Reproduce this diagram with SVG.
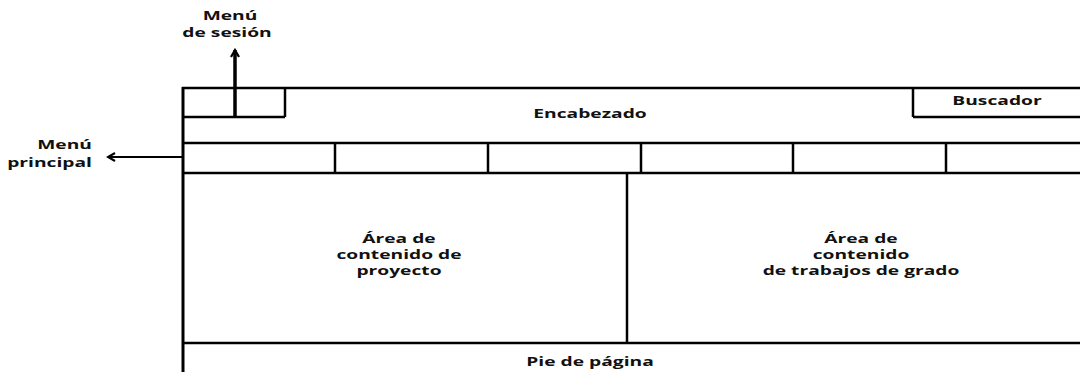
<svg xmlns="http://www.w3.org/2000/svg" width="1080" height="372" viewBox="0 0 1080 372">
<defs>
<style>
.ln{stroke:#000;stroke-width:2.5;fill:none}
.tk{stroke:#000;stroke-width:3;fill:none}
text{font-family:"Open Sans","Liberation Sans",sans-serif;font-weight:bold;font-size:13px;fill:#111}
.c{text-anchor:middle}
.r{text-anchor:end}
.s{font-size:12px}
</style>
<marker id="ah" markerWidth="10" markerHeight="10" refX="8" refY="5" orient="auto" markerUnits="userSpaceOnUse">
<path d="M1,1 L8,5 L1,9" fill="none" stroke="#000" stroke-width="2.2"/>
</marker>
</defs>
<g id="frame">
<line class="tk" x1="183" y1="87" x2="183" y2="372"/>
<line class="ln" x1="182" y1="88" x2="1080" y2="88"/>
<line class="ln" x1="182" y1="143" x2="1080" y2="143"/>
<line class="ln" x1="182" y1="173" x2="1080" y2="173"/>
<line class="ln" x1="182" y1="343" x2="1080" y2="343"/>
</g>
<g id="encabezado">
<text class="c" transform="translate(590,118) scale(1.48,1)">Encabezado</text>
</g>
<g id="sesion-box">
<line class="ln" x1="183" y1="117" x2="285" y2="117"/>
<line class="ln" x1="285" y1="88" x2="285" y2="117"/>
</g>
<g id="buscador">
<line class="ln" x1="913" y1="88" x2="913" y2="117"/>
<line class="ln" x1="913" y1="117" x2="1080" y2="117"/>
<text class="c" transform="translate(997,105) scale(1.48,1)">Buscador</text>
</g>
<g id="menu-principal-bar">
<line class="ln" x1="335" y1="143" x2="335" y2="173"/>
<line class="ln" x1="488" y1="143" x2="488" y2="173"/>
<line class="ln" x1="641" y1="143" x2="641" y2="173"/>
<line class="ln" x1="793" y1="143" x2="793" y2="173"/>
<line class="ln" x1="946" y1="143" x2="946" y2="173"/>
</g>
<g id="area-proyecto">
<line class="ln" x1="627" y1="173" x2="627" y2="343"/>
<text class="c s" transform="translate(399,243) scale(1.6,1)">Área de</text>
<text class="c s" transform="translate(399,259) scale(1.6,1)">contenido de</text>
<text class="c s" transform="translate(399,275) scale(1.6,1)">proyecto</text>
</g>
<g id="area-trabajos">
<text class="c s" transform="translate(861,243) scale(1.6,1)">Área de</text>
<text class="c s" transform="translate(861,259) scale(1.6,1)">contenido</text>
<text class="c s" transform="translate(861,275) scale(1.6,1)">de trabajos de grado</text>
</g>
<g id="pie">
<text class="c" transform="translate(590,366) scale(1.48,1)">Pie de página</text>
</g>
<g id="label-sesion">
<text class="c" transform="translate(230,20) scale(1.48,1)">Menú</text>
<text class="c" transform="translate(227,37) scale(1.48,1)">de sesión</text>
</g>
<g id="label-principal">
<text class="r" transform="translate(92,149) scale(1.48,1)">Menú</text>
<text class="r" transform="translate(92,167) scale(1.48,1)">principal</text>
</g>
<g id="connectors">
<line x1="235" y1="117" x2="235" y2="50" stroke="#000" stroke-width="3.5" marker-end="url(#ah)"/>
<line x1="183" y1="157" x2="108" y2="157" stroke="#000" stroke-width="2" marker-end="url(#ah)"/>
</g>
</svg>
